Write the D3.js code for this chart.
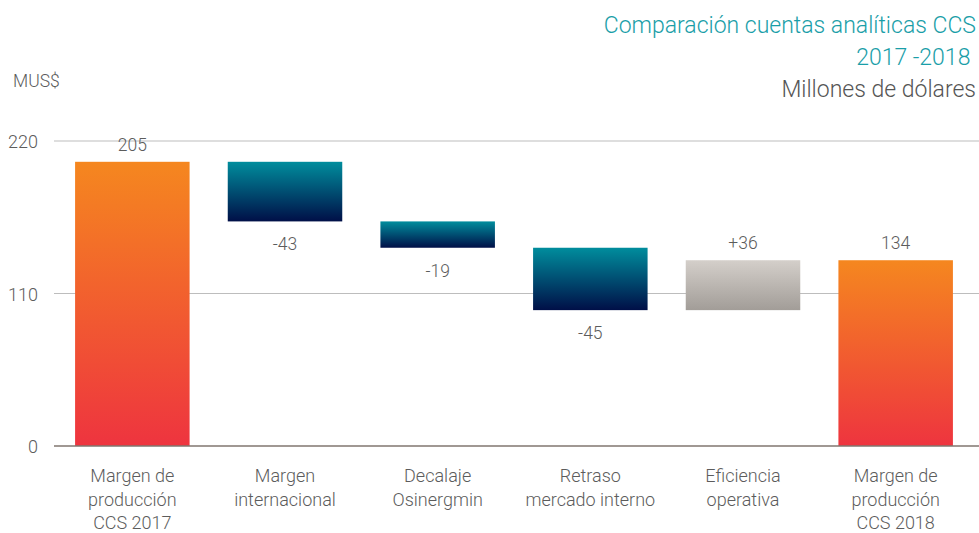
<!DOCTYPE html>
<html>
<head>
<meta charset="utf-8">
<script src="https://cdn.jsdelivr.net/npm/d3@7/dist/d3.min.js"></script>
<style>
  html, body { margin: 0; padding: 0; background: #fff; }
  svg { display: block; font-family: Roboto, "Open Sans", sans-serif; font-weight: 300; }
</style>
</head>
<body>
<svg id="chart" width="979" height="533"></svg>
<script>
// Waterfall steps: two totals and four changes in between
const categories = [
  ["Margen de", "producción", "CCS 2017"],
  ["Margen", "internacional"],
  ["Decalaje", "Osinergmin"],
  ["Retraso", "mercado interno"],
  ["Eficiencia", "operativa"],
  ["Margen de", "producción", "CCS 2018"]
];
const stepValues = [205, -43, -19, -45, 36, 134];
const stepKinds = ["total", "delta", "delta", "delta", "delta", "total"];
const valueLabels = ["205", "-43", "-19", "-45", "+36", "134"];
const yTicks = [0, 110, 220];
const titleLines = ["Comparación cuentas analíticas CCS", "2017 -2018 "];
const subtitle = "Millones de dólares";
const unitLabel = "MUS$";

const svg = d3.select("#chart");
const W = 979;
const textGrey = "#5c5c5c";

// Running start/end for each bar
let running = 0;
const bars = stepValues.map((v, i) => {
  let y0, y1;
  if (stepKinds[i] === "total") { y0 = 0; y1 = v; running = v; }
  else { y0 = running; y1 = running + v; running = y1; }
  return { i, v, kind: stepKinds[i], y0, y1, label: valueLabels[i], cat: categories[i] };
});

const x = d3.scaleBand()
  .domain(d3.range(categories.length))
  .range([56, 972])
  .paddingInner(0.25)
  .paddingOuter(0.125);

const y = d3.scaleLinear().domain([0, 220]).range([446, 141]);

// Gradients
const defs = svg.append("defs");
function grad(id, top, bottom) {
  const g = defs.append("linearGradient").attr("id", id)
    .attr("x1", 0).attr("y1", 0).attr("x2", 0).attr("y2", 1);
  g.append("stop").attr("offset", "0%").attr("stop-color", top);
  g.append("stop").attr("offset", "100%").attr("stop-color", bottom);
}
grad("gTotal", "#F5871F", "#EE343F");
grad("gDown", "#008D9D", "#000F47");
grad("gUp", "#D4CFCA", "#A29D98");

// Gridlines
svg.append("g").selectAll("line")
  .data(yTicks.filter(t => t !== 0))
  .join("line")
  .attr("x1", 54).attr("x2", W)
  .attr("y1", d => y(d)).attr("y2", d => y(d))
  .attr("stroke", "#BDBDBD").attr("stroke-width", 1.2);

// Y tick labels
svg.append("g").selectAll("text")
  .data(yTicks)
  .join("text")
  .attr("x", 38).attr("y", d => y(d) + 7)
  .attr("text-anchor", "end")
  .attr("font-size", 18).attr("fill", textGrey)
  .text(d => d);

// Bars
svg.append("g").selectAll("rect")
  .data(bars)
  .join("rect")
  .attr("x", d => x(d.i))
  .attr("width", x.bandwidth())
  .attr("y", d => y(Math.max(d.y0, d.y1)))
  .attr("height", d => Math.abs(y(d.y0) - y(d.y1)))
  .attr("fill", d => d.kind === "total" ? "url(#gTotal)" : (d.v < 0 ? "url(#gDown)" : "url(#gUp)"));

// Zero axis line
svg.append("line")
  .attr("x1", 54).attr("x2", W)
  .attr("y1", y(0)).attr("y2", y(0))
  .attr("stroke", "#80766F").attr("stroke-width", 1.3);

// Value labels
svg.append("g").selectAll("text")
  .data(bars)
  .join("text")
  .attr("x", d => x(d.i) + x.bandwidth() / 2)
  .attr("y", d => d.v < 0 ? y(Math.min(d.y0, d.y1)) + 29 : y(Math.max(d.y0, d.y1)) - 11)
  .attr("text-anchor", "middle")
  .attr("font-size", 17.5).attr("fill", textGrey)
  .text(d => d.label);

// Category labels
const cats = svg.append("g").selectAll("text")
  .data(bars)
  .join("text")
  .attr("x", d => x(d.i) + x.bandwidth() / 2)
  .attr("y", 482)
  .attr("text-anchor", "middle")
  .attr("font-size", 18).attr("fill", textGrey);
cats.selectAll("tspan")
  .data(d => d.cat.map(line => ({ line, cx: x(d.i) + x.bandwidth() / 2 })))
  .join("tspan")
  .attr("x", d => d.cx)
  .attr("dy", (d, k) => k === 0 ? 0 : 23.5)
  .text(d => d.line);

// Unit label
svg.append("text")
  .attr("x", 13).attr("y", 87)
  .attr("font-size", 17.5).attr("fill", textGrey)
  .text(unitLabel);

// Title block, right aligned
svg.append("g").selectAll("text")
  .data(titleLines)
  .join("text")
  .attr("x", 976)
  .attr("y", (d, k) => 33 + k * 32)
  .attr("text-anchor", "end")
  .attr("font-size", 23).attr("fill", "#1A9EA8")
  .attr("xml:space", "preserve")
  .text(d => d);

svg.append("text")
  .attr("x", 976).attr("y", 97)
  .attr("text-anchor", "end")
  .attr("font-size", 23).attr("fill", "#555555")
  .text(subtitle);
</script>
</body>
</html>
